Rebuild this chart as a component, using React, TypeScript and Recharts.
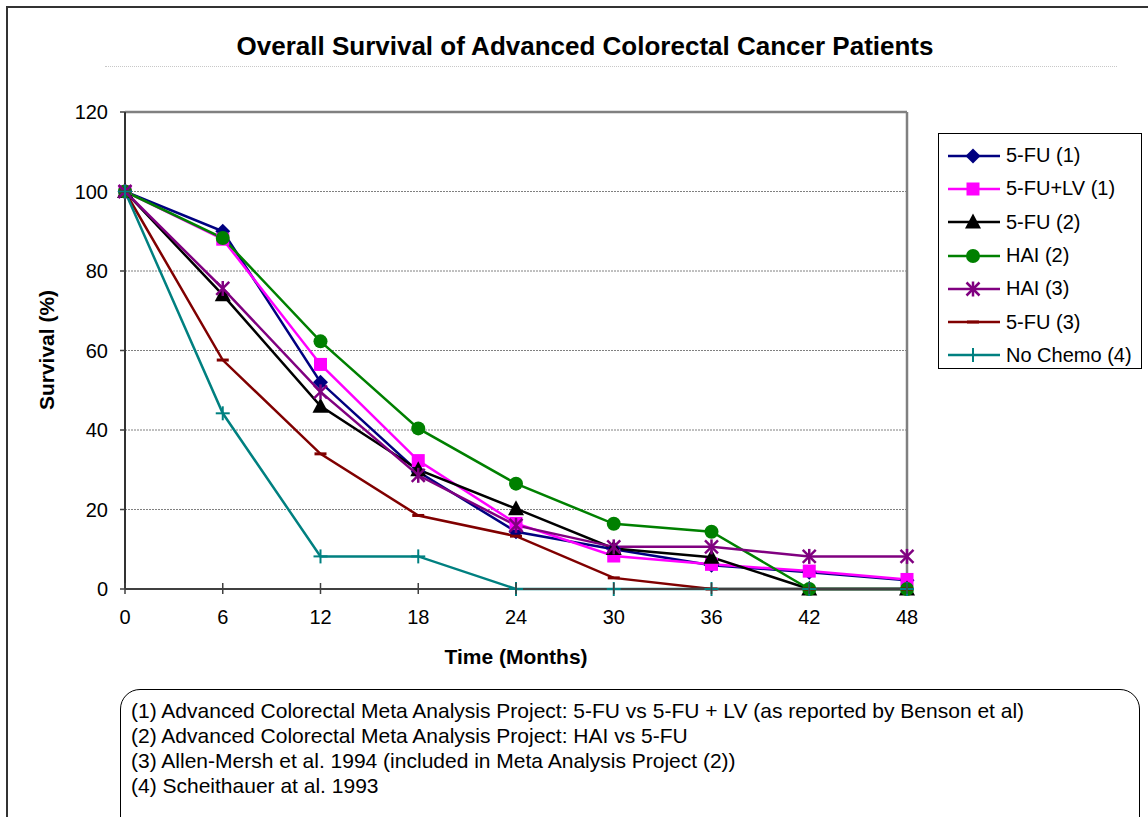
import React from "react";
import {
  LineChart,
  Line,
  XAxis,
  YAxis,
  CartesianGrid,
  ReferenceLine,
} from "recharts";

// months since start
const months = [0, 6, 12, 18, 24, 30, 36, 42, 48];

// survival (%)
const fu1 = [100, 90, 52, 29.5, 14.4, 10, 6, 4.2, 2.2];
const fuLv1 = [100, 88, 56.5, 32.3, 16.5, 8.3, 6.2, 4.5, 2.4];
const fu2 = [100, 74, 46, 30, 20.2, 10.2, 8, 0, 0];
const hai2 = [100, 88.3, 62.3, 40.4, 26.5, 16.4, 14.4, 0, 0];
const hai3 = [100, 75.6, 49.6, 28.6, 16, 10.6, 10.6, 8.2, 8.2];
const fu3 = [100, 57.6, 34, 18.5, 13.3, 2.8, 0, 0, 0];
const noChemo = [100, 44.2, 8.2, 8.2, 0, 0, 0, 0, 0];

const xTicks = [0, 6, 12, 18, 24, 30, 36, 42, 48];
const yTicks = [0, 20, 40, 60, 80, 100, 120];

const footnotes = [
  "(1) Advanced Colorectal Meta Analysis Project: 5-FU vs 5-FU + LV (as reported by Benson et al)",
  "(2) Advanced Colorectal Meta Analysis Project: HAI vs 5-FU",
  "(3) Allen-Mersh et al. 1994 (included in Meta Analysis Project (2))",
  "(4) Scheithauer at al. 1993",
];

type Shape = "diamond" | "square" | "triangle" | "circle" | "star" | "dash" | "plus";

const SERIES: { key: string; name: string; color: string; shape: Shape; values: number[] }[] = [
  { key: "fu1", name: "5-FU (1)", color: "#000080", shape: "diamond", values: fu1 },
  { key: "fuLv1", name: "5-FU+LV (1)", color: "#FF00FF", shape: "square", values: fuLv1 },
  { key: "fu2", name: "5-FU (2)", color: "#000000", shape: "triangle", values: fu2 },
  { key: "hai2", name: "HAI (2)", color: "#008000", shape: "circle", values: hai2 },
  { key: "hai3", name: "HAI (3)", color: "#800080", shape: "star", values: hai3 },
  { key: "fu3", name: "5-FU (3)", color: "#800000", shape: "dash", values: fu3 },
  { key: "noChemo", name: "No Chemo (4)", color: "#008080", shape: "plus", values: noChemo },
];

const data = months.map((m, i) => {
  const row: Record<string, number> = { month: m };
  SERIES.forEach((s) => {
    row[s.key] = s.values[i];
  });
  return row;
});

const FONT = '"Liberation Sans", Arial, sans-serif';

function Marker({ shape, color, cx, cy }: { shape: Shape; color: string; cx: number; cy: number }) {
  switch (shape) {
    case "diamond":
      return (
        <polygon
          points={`${cx},${cy - 7.5} ${cx + 7.5},${cy} ${cx},${cy + 7.5} ${cx - 7.5},${cy}`}
          fill={color}
        />
      );
    case "square":
      return <rect x={cx - 6.5} y={cy - 6.5} width={13} height={13} fill={color} />;
    case "triangle":
      return (
        <polygon
          points={`${cx},${cy - 8.5} ${cx + 8},${cy + 6.5} ${cx - 8},${cy + 6.5}`}
          fill={color}
        />
      );
    case "circle":
      return <circle cx={cx} cy={cy} r={7} fill={color} />;
    case "star":
      return (
        <g stroke={color} strokeWidth={2.5}>
          <line x1={cx} y1={cy - 7.5} x2={cx} y2={cy + 7.5} />
          <line x1={cx - 6.5} y1={cy - 6.5} x2={cx + 6.5} y2={cy + 6.5} />
          <line x1={cx + 6.5} y1={cy - 6.5} x2={cx - 6.5} y2={cy + 6.5} />
        </g>
      );
    case "dash":
      return <line x1={cx - 6} y1={cy} x2={cx + 6} y2={cy} stroke={color} strokeWidth={3} />;
    case "plus":
    default:
      return (
        <g stroke={color} strokeWidth={2}>
          <line x1={cx - 7} y1={cy} x2={cx + 7} y2={cy} />
          <line x1={cx} y1={cy - 7} x2={cx} y2={cy + 7} />
        </g>
      );
  }
}

function makeDot(shape: Shape, color: string) {
  return (props: any) => {
    const { cx, cy, index } = props;
    if (cx == null || cy == null) return <g key={`${shape}-${index}`} />;
    return (
      <g key={`${shape}-${index}`}>
        <Marker shape={shape} color={color} cx={cx} cy={cy} />
      </g>
    );
  };
}

function XTick(props: any) {
  const { x, y, payload } = props;
  return (
    <g>
      <line x1={x} x2={x} y1={y - 6} y2={y + 5} stroke="#404040" strokeWidth={1.5} />
      <text x={x} y={y + 35} textAnchor="middle" fontSize={20} fontFamily={FONT} fill="#000">
        {payload.value}
      </text>
    </g>
  );
}

function ChartLegend() {
  return (
    <div
      style={{
        position: "absolute",
        left: 938,
        top: 133,
        width: 204,
        height: 236,
        border: "1px solid #000",
        background: "#fff",
        boxSizing: "border-box",
        paddingTop: 5,
      }}
    >
      {SERIES.map((s) => (
        <div key={s.key} style={{ display: "flex", alignItems: "center", height: 33.3 }}>
          <svg width={60} height={20} style={{ marginLeft: 7 }}>
            <line x1={2} x2={54} y1={10} y2={10} stroke={s.color} strokeWidth={2.5} />
            <Marker shape={s.shape} color={s.color} cx={27} cy={10} />
          </svg>
          <span style={{ fontFamily: FONT, fontSize: 20, color: "#000", whiteSpace: "nowrap" }}>
            {s.name}
          </span>
        </div>
      ))}
    </div>
  );
}

export default function App() {
  return (
    <div
      style={{
        position: "absolute",
        left: 0,
        top: 0,
        width: 1148,
        height: 817,
        overflow: "hidden",
        background: "#fff",
        fontFamily: FONT,
      }}
    >
      {/* outer chart-area frame */}
      <div
        style={{
          position: "absolute",
          left: 6,
          top: 6,
          width: 1300,
          height: 1000,
          border: "2px solid #333",
        }}
      />

      <div
        style={{
          position: "absolute",
          left: 0,
          top: 31,
          width: 1170,
          textAlign: "center",
          fontSize: 26,
          lineHeight: "30px",
          fontWeight: "bold",
          color: "#000",
        }}
      >
        Overall Survival of Advanced Colorectal Cancer Patients
      </div>
      <div
        style={{
          position: "absolute",
          left: 105,
          top: 66,
          width: 1012,
          height: 0,
          borderTop: "1px dotted #c8c8c8",
        }}
      />

      <div style={{ position: "absolute", left: 0, top: 0 }}>
        <LineChart
          width={1148}
          height={817}
          data={data}
          margin={{ top: 112, right: 241, bottom: 198, left: 65 }}
        >
          <CartesianGrid
            vertical={false}
            stroke="#808080"
            strokeDasharray="2 1"
            strokeWidth={1}
          />
          <XAxis
            dataKey="month"
            type="number"
            domain={[0, 48]}
            ticks={xTicks}
            height={30}
            axisLine={{ stroke: "#404040", strokeWidth: 2 }}
            tickLine={false}
            tickSize={0}
            tickMargin={0}
            tick={<XTick />}
            interval={0}
          />
          <YAxis
            type="number"
            domain={[0, 120]}
            ticks={yTicks}
            width={60}
            axisLine={{ stroke: "#333", strokeWidth: 2 }}
            tickLine={{ stroke: "#404040", strokeWidth: 1.5 }}
            tickSize={5}
            tickMargin={12}
            tick={{ fill: "#000", fontSize: 20, fontFamily: FONT }}
            interval={0}
          />
          <ReferenceLine y={120} stroke="#808080" strokeWidth={2.5} />
          <ReferenceLine x={48} stroke="#808080" strokeWidth={2.5} />
          {SERIES.map((s) => (
            <Line
              key={s.key}
              type="linear"
              dataKey={s.key}
              name={s.name}
              stroke={s.color}
              strokeWidth={2.5}
              dot={makeDot(s.shape, s.color)}
              activeDot={false}
              isAnimationActive={false}
            />
          ))}
        </LineChart>
      </div>

      <div
        style={{
          position: "absolute",
          left: 47,
          top: 350,
          transform: "translate(-50%, -50%) rotate(-90deg)",
          fontSize: 21,
          fontWeight: "bold",
          whiteSpace: "nowrap",
        }}
      >
        Survival (%)
      </div>
      <div
        style={{
          position: "absolute",
          left: 516,
          top: 657,
          transform: "translate(-50%, -50%)",
          fontSize: 21,
          fontWeight: "bold",
          whiteSpace: "nowrap",
        }}
      >
        Time (Months)
      </div>

      <ChartLegend />

      <div
        style={{
          position: "absolute",
          left: 120,
          top: 689,
          width: 1020,
          height: 200,
          border: "1.5px solid #000",
          borderRadius: 20,
          boxSizing: "border-box",
          paddingLeft: 10,
          paddingTop: 8,
        }}
      >
        {footnotes.map((t) => (
          <div key={t} style={{ fontSize: 21, lineHeight: "25px", whiteSpace: "nowrap" }}>
            {t}
          </div>
        ))}
      </div>
    </div>
  );
}
